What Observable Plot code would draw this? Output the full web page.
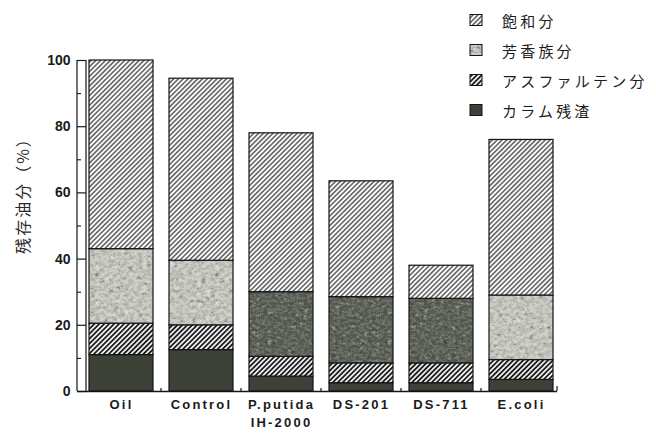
<!DOCTYPE html>
<html>
<head>
<meta charset="utf-8">
<script src="https://cdn.jsdelivr.net/npm/d3@7"></script>
<script src="https://cdn.jsdelivr.net/npm/@observablehq/plot@0.6"></script>
<style>
  body { margin: 0; background: #fff; }
  #chart { width: 656px; height: 434px; }
</style>
</head>
<body>
<div id="chart"></div>
<script>
// Residual oil fractions (% of the initial oil) per culture
const samples = ["Oil", "Control", "P.putida\nIH-2000", "DS-201", "DS-711", "E.coli"];
const components = ["カラム残渣", "アスファルテン分", "芳香族分", "飽和分"]; // stacked bottom → top
const residue    = [11, 12.5, 4.5, 2.5, 2.5, 3.5];
const asphaltene = [9.5, 7.5, 6, 6, 6, 6];
const aromatic   = [22.5, 19.5, 19.5, 20, 19.5, 19.5];
const saturate   = [57, 55, 48, 35, 10, 47];
const yTicks = [0, 20, 40, 60, 80, 100];
const yMinorTicks = [10, 30, 50, 70, 90];
const legendItems = ["飽和分", "芳香族分", "アスファルテン分", "カラム残渣"];
const yTitle = "残存油分（%）";

const valuesByComponent = {
  "カラム残渣": residue,
  "アスファルテン分": asphaltene,
  "芳香族分": aromatic,
  "飽和分": saturate
};

const rows = [];
samples.forEach((s, i) => {
  for (const c of components) rows.push({sample: s, component: c, value: valuesByComponent[c][i]});
});

// Fill styles
const residueColor = "#3d4239";
const darkAromatic = new Set(["P.putida\nIH-2000", "DS-201", "DS-711"]);
function fillFor(component, sample) {
  switch (component) {
    case "飽和分": return "url(#hatch-thin)";
    case "芳香族分": return darkAromatic.has(sample) ? "url(#speckle-dark)" : "url(#speckle-light)";
    case "アスファルテン分": return "url(#hatch-bold)";
    default: return residueColor;
  }
}

const W = 656, H = 434;
const mLeft = 86, mRight = 99, mTop = 60, mBottom = 43;
const strip = 9; // width of the double-lined y axis

const plot = Plot.plot({
  width: W, height: H,
  marginLeft: mLeft, marginRight: mRight, marginTop: mTop, marginBottom: mBottom,
  style: {fontFamily: "'Liberation Sans', Arial, sans-serif", background: "#fff", color: "#1a1a1a", overflow: "visible"},
  x: {domain: samples, paddingInner: 0.195, paddingOuter: 0.02, label: null},
  y: {domain: [0, 100], label: null},
  color: {type: "identity"},
  marks: [
    Plot.barY(rows, {
      x: "sample", y: "value",
      fill: d => fillFor(d.component, d.sample),
      stroke: "#141414", strokeWidth: 1.2
    }),
    Plot.axisY({ticks: yTicks, tickSize: strip, tickPadding: 7, fontSize: 14, fontWeight: "bold", label: null, strokeWidth: 1.2}),
    Plot.axisY({ticks: yMinorTicks, tickSize: 4, dx: -(strip - 4), text: null, label: null, strokeWidth: 1.1}),
    Plot.axisX({tickSize: 0, tickPadding: 4, fontSize: 13, fontWeight: "bold", label: null, lineHeight: 1.42}),
    Plot.ruleY([0], {insetLeft: -strip, stroke: "#141414", strokeWidth: 1.3})
  ]
});

const svg = d3.select(plot);

// Pattern definitions for the hatched and speckled fractions
svg.insert("defs", ":first-child").html(`
  <pattern id="hatch-thin" patternUnits="userSpaceOnUse" width="3.4" height="3.4" patternTransform="rotate(45)">
    <rect width="3.4" height="3.4" fill="#fff"/>
    <line x1="1.7" y1="0" x2="1.7" y2="3.4" stroke="#1c1c1c" stroke-width="1.1"/>
  </pattern>
  <pattern id="hatch-bold" patternUnits="userSpaceOnUse" width="3.5" height="3.5" patternTransform="rotate(45)">
    <rect width="3.5" height="3.5" fill="#fff"/>
    <line x1="1.75" y1="0" x2="1.75" y2="3.5" stroke="#1c1c1c" stroke-width="1.9"/>
  </pattern>
  <filter id="grain-light" x="0" y="0" width="1" height="1" color-interpolation-filters="sRGB">
    <feTurbulence type="fractalNoise" baseFrequency="0.22 0.3" numOctaves="4" seed="7"/>
    <feColorMatrix type="matrix" values="0.33 0.33 0.33 0 0  0.33 0.33 0.33 0 0  0.33 0.33 0.33 0 0  0 0 0 0 1"/>
    <feComponentTransfer>
      <feFuncR type="discrete" tableValues="0.18 0.38 0.58 0.72 0.80 0.86 0.90 0.93"/>
      <feFuncG type="discrete" tableValues="0.19 0.39 0.59 0.73 0.81 0.86 0.90 0.93"/>
      <feFuncB type="discrete" tableValues="0.17 0.36 0.56 0.70 0.78 0.84 0.88 0.91"/>
    </feComponentTransfer>
  </filter>
  <filter id="grain-dark" x="0" y="0" width="1" height="1" color-interpolation-filters="sRGB">
    <feTurbulence type="fractalNoise" baseFrequency="0.25 0.35" numOctaves="4" seed="11"/>
    <feColorMatrix type="matrix" values="0.33 0.33 0.33 0 0  0.33 0.33 0.33 0 0  0.33 0.33 0.33 0 0  0 0 0 0 1"/>
    <feComponentTransfer>
      <feFuncR type="discrete" tableValues="0.18 0.22 0.28 0.34 0.42 0.55 0.72 0.85"/>
      <feFuncG type="discrete" tableValues="0.20 0.24 0.30 0.36 0.44 0.57 0.73 0.85"/>
      <feFuncB type="discrete" tableValues="0.17 0.21 0.27 0.32 0.40 0.53 0.70 0.83"/>
    </feComponentTransfer>
  </filter>
  <pattern id="speckle-light" patternUnits="userSpaceOnUse" width="120" height="120">
    <rect width="120" height="120" fill="#bbb" filter="url(#grain-light)"/>
  </pattern>
  <pattern id="speckle-dark" patternUnits="userSpaceOnUse" width="120" height="120">
    <rect width="120" height="120" fill="#666" filter="url(#grain-dark)"/>
  </pattern>
`);

// Double-lined y axis strip and small separators on the baseline
const ys = plot.scale("y"), xs = plot.scale("x");
const y0 = ys.apply(0), y100 = ys.apply(100);
const deco = svg.append("g").attr("stroke", "#141414").attr("fill", "none");
for (const xPos of [mLeft - strip, mLeft]) {
  deco.append("line").attr("x1", xPos).attr("x2", xPos).attr("y1", y100).attr("y2", y0).attr("stroke-width", 1.2);
}
const bw = xs.bandwidth;
for (let i = 0; i < samples.length; i++) {
  const right = xs.apply(samples[i]) + bw;
  const next = i + 1 < samples.length ? xs.apply(samples[i + 1]) : W - mRight;
  const xPos = i + 1 < samples.length ? (right + next) / 2 : next;
  const h = i + 1 < samples.length ? 3 : 5;
  deco.append("line").attr("x1", xPos).attr("x2", xPos).attr("y1", y0).attr("y2", y0 - h).attr("stroke-width", 1.2);
}

// Category labels are set with wide tracking
svg.selectAll('[aria-label="x-axis tick label"] text').style("letter-spacing", "2.2px");

// Rotated y-axis title
svg.append("text")
  .attr("transform", `translate(22, ${(y0 + y100) / 2 - 34}) rotate(-90)`)
  .attr("text-anchor", "middle")
  .attr("dominant-baseline", "central")
  .attr("font-family", "'Noto Sans CJK JP', sans-serif")
  .attr("font-size", 16)
  .attr("letter-spacing", "2px")
  .attr("fill", "#2a2a2a")
  .text(yTitle);

// Legend, top right
const legend = svg.append("g")
  .attr("font-family", "'Noto Sans CJK JP', sans-serif")
  .attr("font-size", 15)
  .attr("text-anchor", "start")
  .attr("fill", "#1e1e1e");
legendItems.forEach((name, i) => {
  const cy = 20 + i * 30;
  legend.append("rect")
    .attr("x", 470).attr("y", cy - 5.5).attr("width", 12).attr("height", 11)
    .attr("fill", fillFor(name, "Oil"))
    .attr("stroke", "#141414").attr("stroke-width", 1);
  legend.append("text")
    .attr("x", 502).attr("y", cy)
    .attr("text-anchor", "start")
    .attr("dominant-baseline", "central")
    .attr("letter-spacing", "3.2px")
    .text(name);
});

document.getElementById("chart").appendChild(plot);
</script>
</body>
</html>
